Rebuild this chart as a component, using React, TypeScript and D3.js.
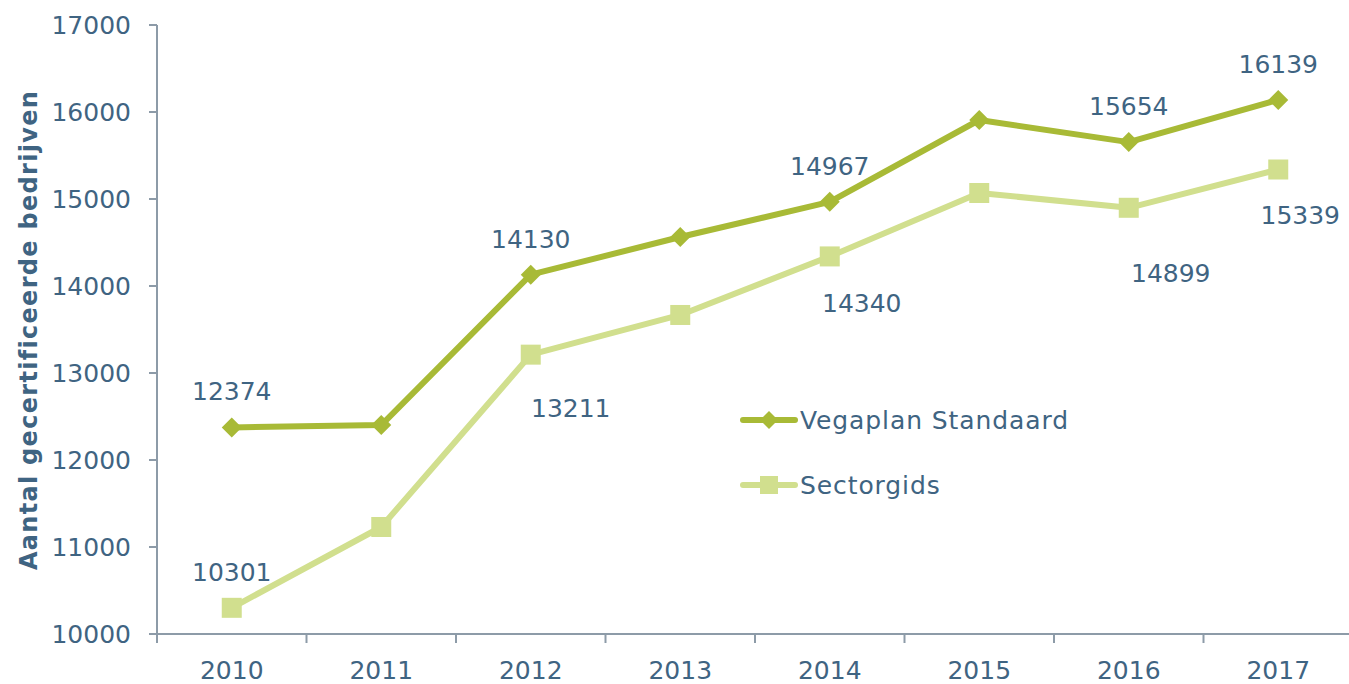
import React from "react";
import * as d3 from "d3";

const years = ["2010", "2011", "2012", "2013", "2014", "2015", "2016", "2017"];
const vegaplan = [12374, 12402, 14130, 14563, 14967, 15908, 15654, 16139];
const sectorgids = [10301, 11230, 13211, 13667, 14340, 15069, 14899, 15339];
const yTicks = [10000, 11000, 12000, 13000, 14000, 15000, 16000, 17000];
// which points carry a value label, and where (offset from point, px)
const vegaLabels: [number, number, number][] = [
  [0, 0, -36], [2, 0, -36], [4, 0, -36], [6, 0, -36], [7, 0, -36],
];
const sectorLabels: [number, number, number][] = [
  [0, 0, -36], [2, 40, 53], [4, 32, 47], [6, 42, 65], [7, 22, 45],
];

const W = 1349, H = 684;
const left = 157, top = 25, bottom = 634, right = 1353;
const textColor = "#3f6482";
const axisColor = "#8d9ba8";
const c1 = "#a8ba36";
const c2 = "#d1df8e";
const font = "'DejaVu Sans', Verdana, sans-serif";
const fs = 25;

export default function App() {
  const x = d3.scaleBand().domain(years).range([left, right]);
  const y = d3.scaleLinear().domain([10000, 17000]).range([bottom, top]);
  const cx = (i: number) => (x(years[i]) as number) + x.bandwidth() / 2;
  const line = d3.line<number>().x((_, i) => cx(i)).y((d) => y(d));
  const diamond = (px: number, py: number, r: number) =>
    `M${px},${py - r}L${px + r},${py}L${px},${py + r}L${px - r},${py}Z`;

  return (
    <svg width={W} height={H} style={{ position: "absolute", left: 0, top: 0, background: "#fff" }} fontFamily={font}>
      {/* y axis */}
      <line x1={left} x2={left} y1={top} y2={bottom} stroke={axisColor} strokeWidth={2} />
      {yTicks.map((t) => (
        <g key={t}>
          <line x1={left - 8} x2={left} y1={y(t)} y2={y(t)} stroke={axisColor} strokeWidth={2} />
          <text x={131} y={y(t)} dy="0.36em" textAnchor="end" fontSize={fs} fill={textColor}>
            {t}
          </text>
        </g>
      ))}
      {/* x axis */}
      <line x1={left} x2={right} y1={bottom} y2={bottom} stroke={axisColor} strokeWidth={2} />
      {years.map((yr, i) => (
        <g key={yr}>
          <line x1={x(yr) as number} x2={x(yr) as number} y1={bottom} y2={bottom + 9} stroke={axisColor} strokeWidth={2} />
          <text x={cx(i)} y={670} dy="0.36em" textAnchor="middle" fontSize={fs} fill={textColor}>
            {yr}
          </text>
        </g>
      ))}
      <text
        transform={`translate(28,330) rotate(-90)`}
        textAnchor="middle"
        dy="0.36em"
        fontSize={24}
        fontWeight="bold"
        letterSpacing={1.3}
        fill={textColor}
      >
        Aantal gecertificeerde bedrijven
      </text>

      {/* series */}
      <path d={line(sectorgids) || ""} fill="none" stroke={c2} strokeWidth={6} strokeLinejoin="round" />
      {sectorgids.map((v, i) => (
        <rect key={i} x={cx(i) - 10} y={y(v) - 10} width={20} height={20} fill={c2} />
      ))}
      <path d={line(vegaplan) || ""} fill="none" stroke={c1} strokeWidth={6} strokeLinejoin="round" />
      {vegaplan.map((v, i) => (
        <path key={i} d={diamond(cx(i), y(v), 10)} fill={c1} />
      ))}

      {vegaLabels.map(([i, dx, dy]) => (
        <text key={"v" + i} x={cx(i) + dx} y={y(vegaplan[i]) + dy} dy="0.36em" textAnchor="middle" fontSize={fs} fill={textColor}>
          {vegaplan[i]}
        </text>
      ))}
      {sectorLabels.map(([i, dx, dy]) => (
        <text key={"s" + i} x={cx(i) + dx} y={y(sectorgids[i]) + dy} dy="0.36em" textAnchor="middle" fontSize={fs} fill={textColor}>
          {sectorgids[i]}
        </text>
      ))}

      {/* legend */}
      <g>
        <line x1={743} x2={795} y1={420} y2={420} stroke={c1} strokeWidth={6} strokeLinecap="round" />
        <path d={diamond(769, 420, 9)} fill={c1} />
        <text x={800} y={420} dy="0.36em" fontSize={fs} letterSpacing={0.9} fill={textColor}>Vegaplan Standaard</text>
        <line x1={743} x2={795} y1={485} y2={485} stroke={c2} strokeWidth={6} strokeLinecap="round" />
        <rect x={760} y={476} width={18} height={18} fill={c2} />
        <text x={800} y={485} dy="0.36em" fontSize={fs} letterSpacing={0.9} fill={textColor}>Sectorgids</text>
      </g>
    </svg>
  );
}
